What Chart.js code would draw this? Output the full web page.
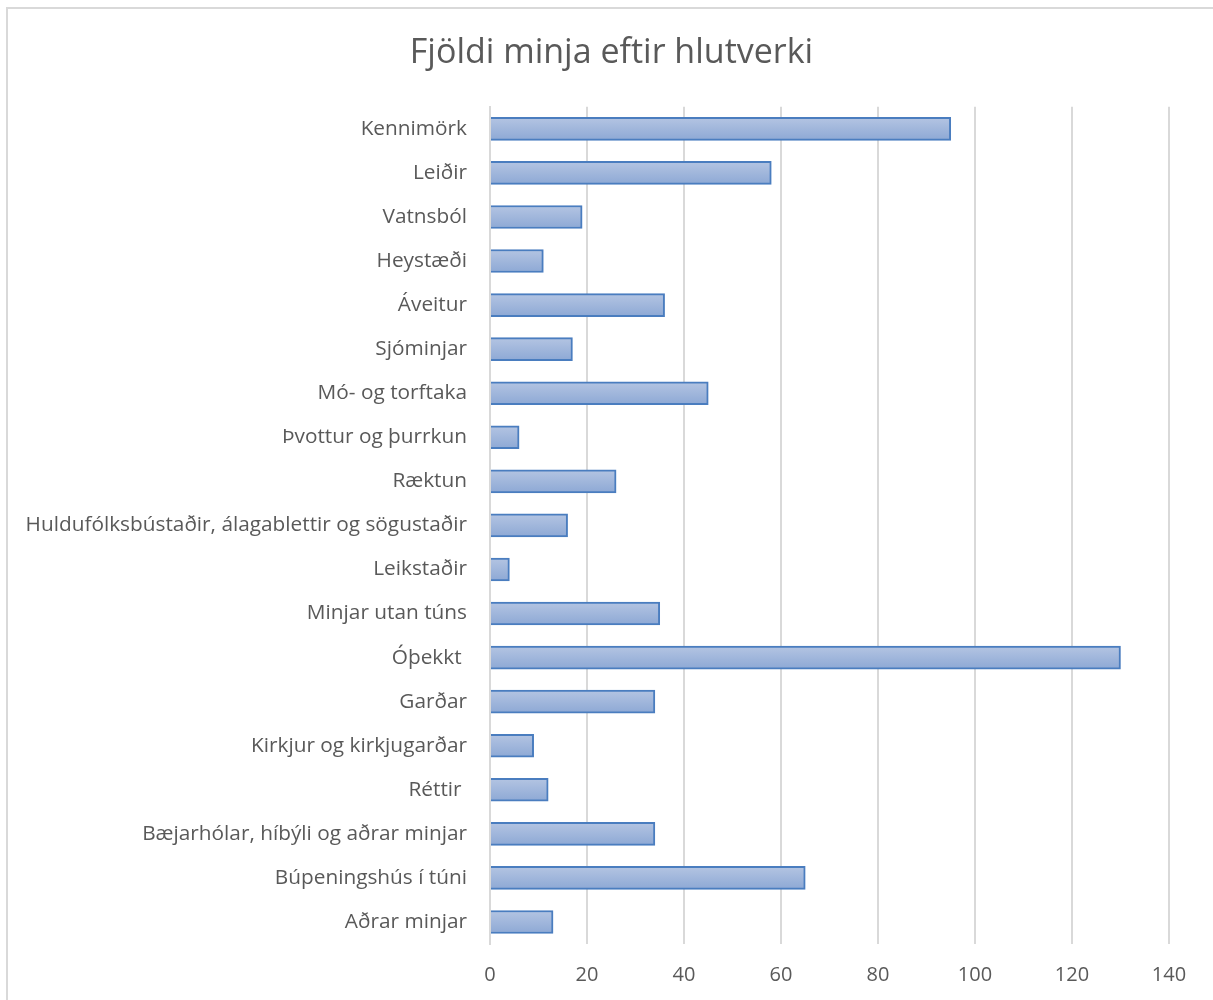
<!DOCTYPE html>
<html>
<head>
<meta charset="utf-8">
<script src="https://cdn.jsdelivr.net/npm/chart.js@4"></script>
<style>
  body { margin: 0; background: #fff; overflow: hidden; }
  #frame { position: absolute; left: 6px; top: 7px; width: 1230px; height: 1020px; border: 2px solid #d9d9d9; }
  #wrap { position: absolute; left: 0; top: 0; width: 1213px; height: 1000px; }
  #minjar { display: block; width: 1213px; height: 1000px; }
</style>
</head>
<body>
<div id="frame"></div>
<div id="wrap"><canvas id="minjar" width="1213" height="1000"></canvas></div>
<script>
const categories = [
  'Kennimörk', 'Leiðir', 'Vatnsból', 'Heystæði', 'Áveitur', 'Sjóminjar',
  'Mó- og torftaka', 'Þvottur og þurrkun', 'Ræktun',
  'Huldufólksbústaðir, álagablettir og sögustaðir', 'Leikstaðir',
  'Minjar utan túns', 'Óþekkt ', 'Garðar', 'Kirkjur og kirkjugarðar',
  'Réttir ', 'Bæjarhólar, híbýli og aðrar minjar', 'Búpeningshús í túni',
  'Aðrar minjar'
];
const counts = [95, 58, 19, 11, 36, 17, 45, 6, 26, 16, 4, 35, 130, 34, 9, 12, 34, 65, 13];

const font = '"Open Sans", Lato, sans-serif';
const grey = '#595959';

// vertical gradient for each bar, Excel style
function barFill(context) {
  const chart = context.chart;
  const y = chart.scales.y;
  if (!chart.chartArea || !y) return '#9fb4da';
  const mid = y.getPixelForValue(context.dataIndex);
  const g = chart.ctx.createLinearGradient(0, mid - 11, 0, mid + 11);
  g.addColorStop(0, '#b3c4e2');
  g.addColorStop(1, '#8ea9d5');
  return g;
}

// centre the title a bit to the right, like the original
const titleShift = {
  id: 'titleShift',
  afterLayout(chart) {
    if (chart.titleBlock) chart.titleBlock.left += 54;
  }
};

new Chart(document.getElementById('minjar'), {
  type: 'bar',
  data: {
    labels: categories,
    datasets: [{
      label: 'Fjöldi',
      data: counts,
      backgroundColor: barFill,
      borderColor: '#4a7dbf',
      borderWidth: 2,
      barThickness: 23
    }]
  },
  options: {
    indexAxis: 'y',
    responsive: false,
    animation: false,
    layout: { padding: { left: 0, right: 44, top: 0, bottom: 0 } },
    plugins: {
      legend: { display: false },
      tooltip: { enabled: false },
      title: {
        display: true,
        text: 'Fjöldi minja eftir hlutverki',
        color: grey,
        font: { family: font, size: 34, weight: 'normal' },
        padding: { top: 33, bottom: 33 }
      }
    },
    scales: {
      x: {
        min: 0,
        max: 140,
        ticks: { stepSize: 20, color: grey, padding: 19, font: { family: font, size: 20 } },
        grid: { color: '#d9d9d9', lineWidth: 2, drawTicks: false },
        border: { display: false },
        afterFit: s => { s.height = 56; }
      },
      y: {
        ticks: { color: grey, padding: 15, font: { family: font, size: 20.8 } },
        grid: { display: false },
        border: { color: '#d9d9d9', width: 2 },
        afterFit: s => { s.width = 490; }
      }
    }
  },
  plugins: [titleShift]
});
</script>
</body>
</html>
